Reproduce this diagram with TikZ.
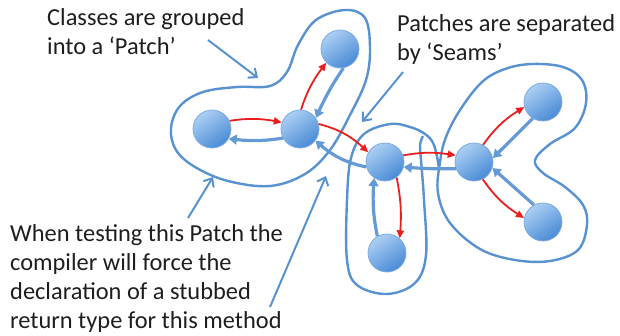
\documentclass[tikz,border=0pt]{standalone}
\usepackage{fontspec}
\setmainfont{Carlito}
\usetikzlibrary{arrows.meta,bending}
\definecolor{patchblue}{RGB}{88,146,208}
\definecolor{arrowblue}{RGB}{100,155,215}
\definecolor{redarr}{RGB}{235,30,30}
\definecolor{clight}{RGB}{172,207,243}
\definecolor{cdark}{RGB}{72,138,214}
\definecolor{cedge}{RGB}{125,172,226}
\definecolor{txt}{RGB}{30,30,30}
\begin{document}
\begin{tikzpicture}[x=1pt,y=-1pt,
  cls/.style={circle,minimum size=38pt,inner sep=0pt,draw=cedge,line width=0.8pt,top color=clight,bottom color=cdark,shading angle=35},
  patch/.style={draw=patchblue,line width=2.4pt},
  redarrow/.style={draw=redarr,line width=1.8pt,-{Triangle[length=8pt,width=7pt]}},
  bluearrow/.style={draw=arrowblue,line width=3.2pt,-{Triangle[length=8pt,width=10pt]}},
  pointer/.style={draw=patchblue,line width=2pt,-{Straight Barb[length=7pt,width=12pt]}},
  lbl/.style={font=\fontsize{24.4}{29}\selectfont,text=txt,align=left,inner sep=0pt,anchor=base west}]
\useasboundingbox (0,0) rectangle (620,335);
% patches
\draw[patch] plot[smooth cycle,tension=0.6] coordinates {(171,128) (180,106) (203,92) (237,87) (270,86) (287,72) (298,45) (316,20) (345,10) (365,18) (370,48) (366,80) (350,115) (330,150) (305,174) (270,186) (228,181) (195,167) (176,150)};
\draw[patch] plot[smooth,tension=0.6] coordinates {(439,168) (434,145) (425,134) (410,127) (390,124) (364,134) (351,158) (347,200) (347,260) (357,285) (387,294) (415,283) (426,255) (424,200) (421,160) (420,145) (423,136)};
\draw[patch] plot[smooth cycle,tension=0.6] coordinates {(482,82) (505,69) (532,64) (563,67) (582,80) (586,103) (575,128) (550,144) (535,160) (543,173) (565,187) (583,205) (587,225) (578,250) (550,261) (515,260) (480,249) (450,223) (438,193) (440,162) (446,137) (460,110)};
% classes
\node[cls] (A) at (212,129) {};
\node[cls] (B) at (300,129) {};
\node[cls] (C) at (340,49) {};
\node[cls] (D) at (385,162) {};
\node[cls] (E) at (387,253) {};
\node[cls] (F) at (474,162) {};
\node[cls] (G) at (543,102) {};
\node[cls] (H) at (543,222) {};
% calls
\draw[redarrow] (A.25) to[bend left=10] (B.160);
\draw[bluearrow] (B.208) to[bend left=8] (A.330);
\draw[redarrow] (B.87) to[bend left=10] (C.225);
\draw[bluearrow] (C.280) to[bend right=5] (B.35);
\draw[redarrow] (B.15) to[bend left=15] (D.150);
\draw[bluearrow] (D.195) to[bend left=15] (B.323);
\draw[redarrow] (D.20) to[bend left=10] (F.160);
\draw[bluearrow] (F.200) to[bend left=3] (D.345);
\draw[redarrow] (D.307) to[bend left=8] (E.49);
\draw[bluearrow] (E.120) to[bend left=8] (D.236);
\draw[redarrow] (F.62) to[bend left=12] (G.195);
\draw[bluearrow] (G.238) -- (F.12);
\draw[redarrow] (F.297) to[bend right=12] (H.168);
\draw[bluearrow] (H.118) -- (F.342);
% texts (base anchor = baseline of last line)
\node[lbl] (t1) at (47,54) {Classes are grouped\\into a ‘Patch’};
\node[lbl] (t2) at (397,60) {Patches are separated\\by ‘Seams’};
\node[lbl] (t3) at (10,328) {When testing this Patch the\\compiler will force the\\declaration of a stubbed\\return type for this method};
% pointers
\coordinate (p1s) at (208,40); \coordinate (p1e) at (258,78);
\coordinate (p2s) at (403,72); \coordinate (p2e) at (362,122);
\coordinate (p3s) at (188,218); \coordinate (p3e) at (213,177);
\coordinate (p4s) at (270,307); \coordinate (p4e) at (326,176);
\draw[pointer] (p1s) -- (p1e);
\draw[pointer] (p2s) -- (p2e);
\draw[pointer] (p3s) -- (p3e);
\draw[pointer] (p4s) -- (p4e);
\end{tikzpicture}
\end{document}
